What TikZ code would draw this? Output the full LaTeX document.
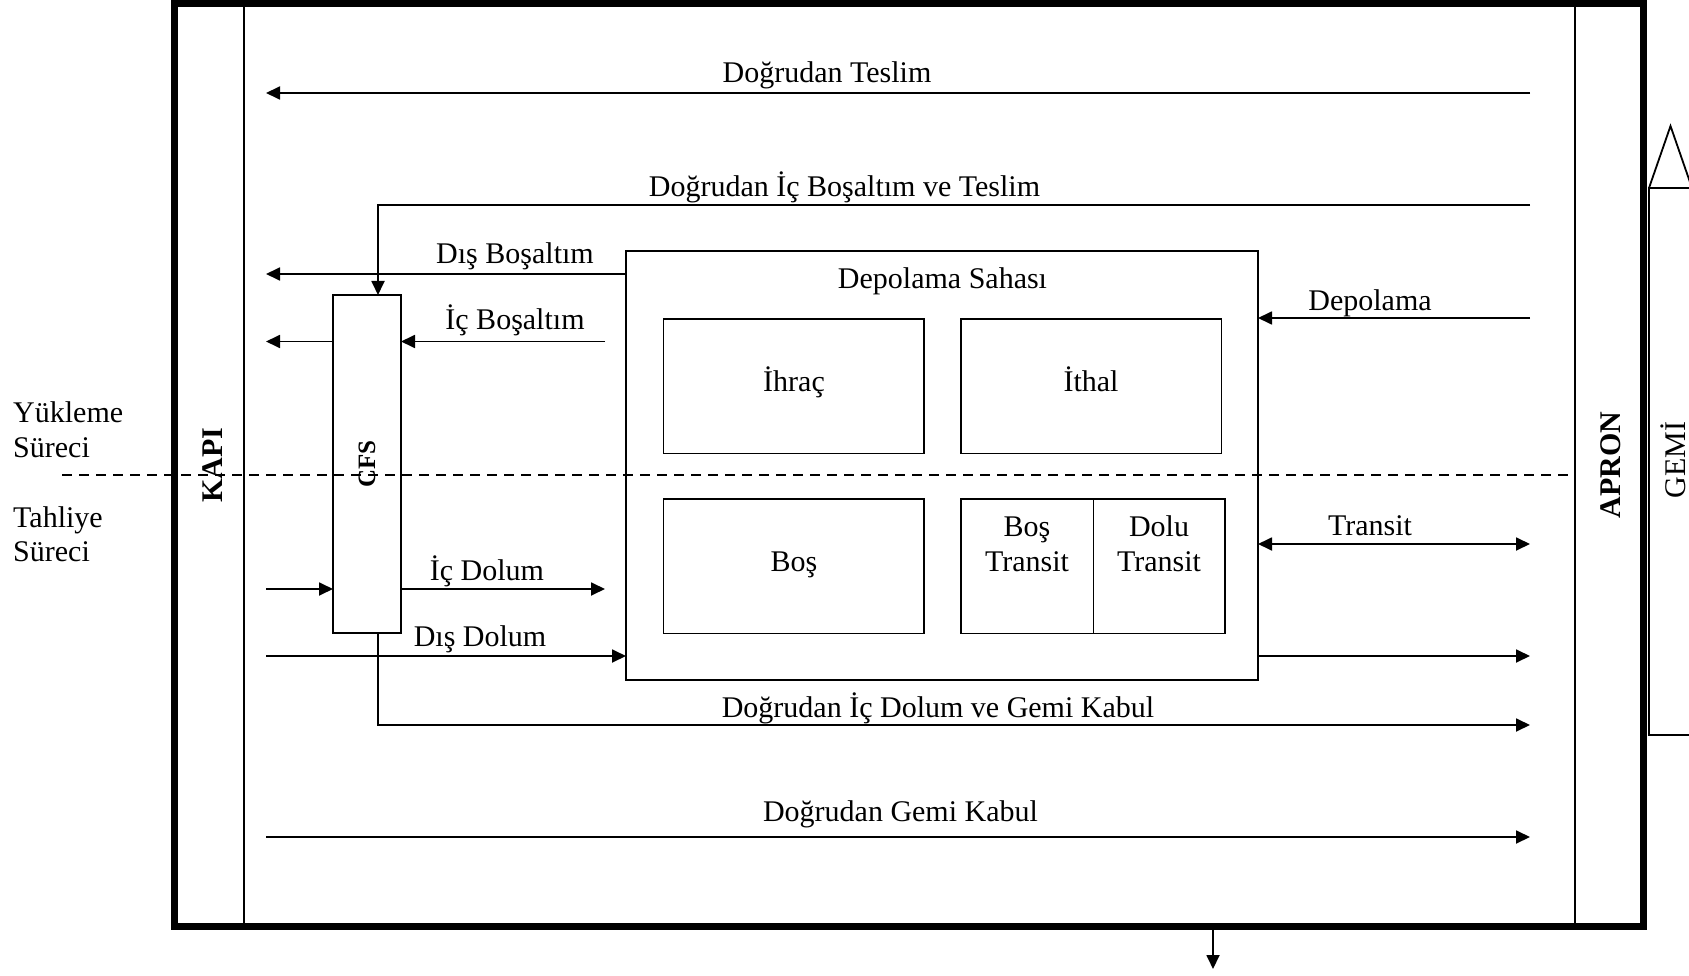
\documentclass[tikz,border=0pt]{standalone}
\usepackage{fontspec}
\setmainfont{Liberation Serif}
\usetikzlibrary{arrows.meta}
\tikzset{
  thin line/.style={line width=1.8pt},
  arr/.style={thin line,-{Triangle[length=14pt,width=13pt]}},
  arrtwo/.style={thin line,{Triangle[length=14pt,width=13pt]}-{Triangle[length=14pt,width=13pt]}},
  box/.style={draw,thin line,inner sep=0pt,outer sep=0pt,anchor=north west},
  lbl/.style={font=\fontsize{30}{36}\selectfont,inner sep=0pt,anchor=base},
  lbll/.style={font=\fontsize{30}{36}\selectfont,inner sep=0pt,anchor=base west},
  vlbl/.style={font=\fontsize{30}{36}\selectfont\bfseries,inner sep=0pt,rotate=90},
}
\begin{document}
\begin{tikzpicture}[x=1pt,y=-1pt]
\useasboundingbox (0,0) rectangle (1689,976);
% frame
\node[draw,line width=7pt,inner sep=0pt,outer sep=0pt,minimum width=1468.5pt,minimum height=922pt] (frame) at (908.75,465) {};
\coordinate (kx) at (243.5,0);
\coordinate (ax) at (1575,0);
\draw[line width=2pt] (frame.north -| kx) -- (frame.south -| kx);
\draw[line width=2pt] (frame.north -| ax) -- (frame.south -| ax);
% dashed divider
\coordinate (dashL) at (62,475);
\coordinate (dashR) at (1573,475);
\draw[line width=1.5pt,dash pattern=on 10pt off 7pt] (dashL) -- (dashR);
% side labels
\node[lbll] (yuk1) at (13,422) {Yükleme};
\node[lbll] (yuk2) at (13,457) {Süreci};
\node[lbll] (tah1) at (13,527) {Tahliye};
\node[lbll] (tah2) at (13,561) {Süreci};
\node[vlbl] (kapi) at (213,465) {KAPI};
\node[vlbl] (apron) at (1611,465) {APRON};
\node[font=\fontsize{30}{36}\selectfont,inner sep=0pt,rotate=90] (gemi) at (1673,460) {GEMİ};
% ship
\coordinate (shipApex) at (1670.5,126);
\coordinate (shipBL) at (1649,188);
\coordinate (shipBR) at (1692,188);
\coordinate (shipLL) at (1649,735);
\coordinate (shipLR) at (1692,735);
\draw[thin line] (shipBL) -- (shipApex) -- (shipBR);
\draw[thin line] (shipBR) -- (shipBL) -- (shipLL) -- (shipLR);
% boxes
\node[box,minimum width=68pt,minimum height=338pt] (cfs) at (333,295) {};
\node[font=\fontsize{25}{30}\selectfont\bfseries,inner sep=0pt,rotate=90] (cfslbl) at (cfs.center) {CFS};
\node[box,minimum width=632pt,minimum height=429pt] (dep) at (626,251) {};
\node[lbl] (deplbl) at (942.5,289) {Depolama Sahası};
\node[box,minimum width=260.5pt,minimum height=134.5pt] (ihrac) at (663.5,319) {};
\node[lbl] (ihraclbl) at (794,391) {İhraç};
\node[box,minimum width=260.5pt,minimum height=134.5pt] (ithal) at (961,319) {};
\node[lbl] (ithallbl) at (1091,391) {İthal};
\node[box,minimum width=260.5pt,minimum height=134.7pt] (bos) at (663.5,498.7) {};
\node[lbl] (boslbl) at (794,571) {Boş};
\node[box,minimum width=132.4pt,minimum height=134.7pt] (bt) at (961,498.7) {};
\node[box,minimum width=131.3pt,minimum height=134.7pt] (dt) at (1093.4,498.7) {};
\node[lbl] (bt1) at (1027,536) {Boş};
\node[lbl] (bt2) at (1027,571) {Transit};
\node[lbl] (dt1) at (1159,536) {Dolu};
\node[lbl] (dt2) at (1159,571) {Transit};
% 1 Dogrudan Teslim
\coordinate (tR) at (1530,93);
\coordinate (tL) at (266,93);
\draw[arr] (tR) -- (tL);
\node[lbl] (tlbl) at (827,83) {Doğrudan Teslim};
% 2 Dogrudan Ic Bosaltim ve Teslim
\coordinate (ibR) at (1530,205);
\draw[arr] (ibR) -| ([xshift=11pt]cfs.north);
\node[lbl] (iblbl) at (844.5,197) {Doğrudan İç Boşaltım ve Teslim};
% 3 Dis Bosaltim
\coordinate (dbL) at (266,274);
\draw[arr] (dep.west |- dbL) -- (dbL);
\node[lbl] (dblbl) at (515,264) {Dış Boşaltım};
% 4 Ic Bosaltim
\coordinate (icbR) at (605,341.5);
\coordinate (icbL) at (266,341.5);
\draw[arr] (icbR) -- (cfs.east |- icbR);
\draw[arr] (cfs.west |- icbL) -- (icbL);
\node[lbl] (icblbl) at (515,330) {İç Boşaltım};
% 5 Depolama
\coordinate (depR) at (1530,318);
\draw[arr] (depR) -- (dep.east |- depR);
\node[lbl] (deprlbl) at (1370,311) {Depolama};
% 6 Transit
\coordinate (trR) at (1530,544);
\draw[arrtwo] (dep.east |- trR) -- (trR);
\node[lbl] (trlbl) at (1370,535) {Transit};
% 7 Ic Dolum
\coordinate (idL) at (266,589);
\coordinate (idR) at (605,589);
\draw[arr] (idL) -- (cfs.west |- idL);
\draw[arr] (cfs.east |- idR) -- (idR);
\node[lbl] (idlbl) at (487,580) {İç Dolum};
% 8 Dis Dolum
\coordinate (ddL) at (266,656);
\draw[arr] (ddL) -- (dep.west |- ddL);
\node[lbl] (ddlbl) at (480,646) {Dış Dolum};
% 9 out of storage
\coordinate (outR) at (1530,656);
\draw[arr] (dep.east |- outR) -- (outR);
% 10 Dogrudan Ic Dolum ve Gemi Kabul
\coordinate (idgR) at (1530,725);
\draw[arr] ([xshift=11pt]cfs.south) |- (idgR);
\node[lbl] (idglbl) at (938,717) {Doğrudan İç Dolum ve Gemi Kabul};
% 11 Dogrudan Gemi Kabul
\coordinate (gkL) at (266,837);
\coordinate (gkR) at (1530,837);
\draw[arr] (gkL) -- (gkR);
\node[lbl] (gklbl) at (900.5,821) {Doğrudan Gemi Kabul};
% 12 bottom exit
\coordinate (botB) at (1213,969);
\draw[arr] (frame.south -| botB) -- (botB);
\end{tikzpicture}
\end{document}
